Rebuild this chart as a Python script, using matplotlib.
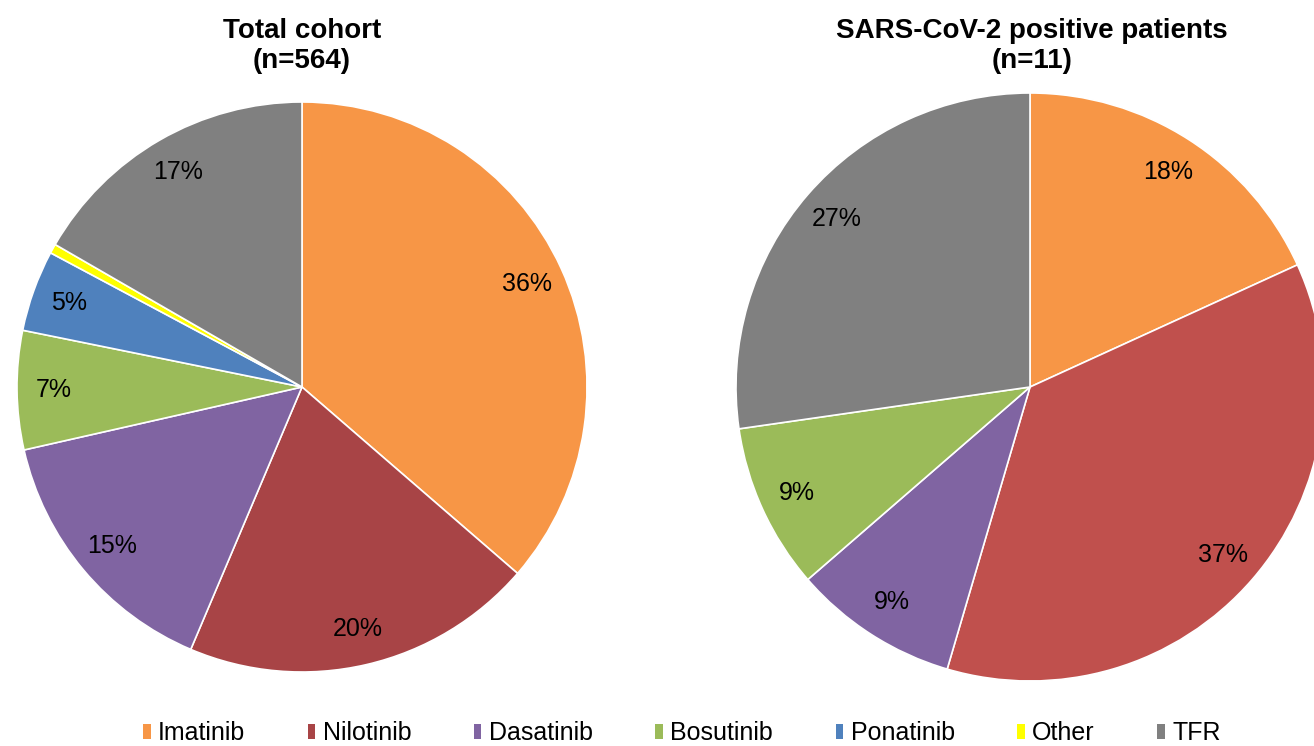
import matplotlib
matplotlib.use("Agg")
from matplotlib import pyplot as plt
from matplotlib.patches import Patch
import numpy as np

plt.rcParams['font.family'] = ['Liberation Sans', 'DejaVu Sans']

# data
drugs = ["Imatinib", "Nilotinib", "Dasatinib", "Bosutinib", "Ponatinib", "Other", "TFR"]
total_counts = [205, 113, 85, 38, 26, 3, 94]          # n=564
total_labels = ["36%", "20%", "15%", "7%", "5%", "", "17%"]
pos_counts = [2, 4, 1, 1, 0, 0, 3]                    # n=11
pos_labels = ["18%", "37%", "9%", "9%", "", "", "27%"]

colors_left = ["#F79646", "#A84446", "#8064A2", "#9BBB59", "#4F81BD", "#FFFF00", "#808080"]
colors_right = ["#F79646", "#C0504D", "#8064A2", "#9BBB59", "#4F81BD", "#FFFF00", "#808080"]

W, H = 1314, 746
fig = plt.figure(figsize=(W / 100, H / 100), dpi=100)


def px_axes(x, y, w, h):
    # pixel box (top-left origin) -> figure axes
    return fig.add_axes([x / W, (H - y - h) / H, w / W, h / H])


def draw_pie(ax, counts, labels, colors):
    keep = [i for i, c in enumerate(counts) if c > 0]
    ax.pie([counts[i] for i in keep], colors=[colors[i] for i in keep],
           startangle=90, counterclock=False, radius=1,
           wedgeprops=dict(edgecolor="white", linewidth=1.2))
    total = sum(counts)
    ang = 90.0
    for i in keep:
        frac = counts[i] / total
        mid = ang - frac * 360 / 2
        ang -= frac * 360
        if labels[i]:
            r = 0.87
            ax.text(r * np.cos(np.radians(mid)), r * np.sin(np.radians(mid)), labels[i],
                    ha="center", va="center", fontsize=18, color="black")
    ax.set_xlim(-1, 1)
    ax.set_ylim(-1, 1)
    ax.set_aspect("equal")
    ax.axis("off")


ax1 = px_axes(17, 102, 570, 570)
draw_pie(ax1, total_counts, total_labels, colors_left)
ax2 = px_axes(736, 93, 588, 588)
draw_pie(ax2, pos_counts, pos_labels, colors_right)

fig.text(302 / W, 1 - 46 / H, "Total cohort\n(n=564)", ha="center", va="center",
         fontsize=20, fontweight="bold", linespacing=1.15)
fig.text(1032 / W, 1 - 46 / H, "SARS-CoV-2 positive patients\n(n=11)", ha="center", va="center",
         fontsize=20, fontweight="bold", linespacing=1.15)

handles = [Patch(facecolor=c, edgecolor="none") for c in colors_left]
fig.legend(handles, drugs, loc="center", bbox_to_anchor=(682 / W, 1 - 733 / H), ncol=7,
           frameon=False, fontsize=18, handlelength=0.3, handleheight=0.55,
           handletextpad=0.3, columnspacing=2.5, borderpad=0.1)

plt.savefig("out.png", dpi=100)
